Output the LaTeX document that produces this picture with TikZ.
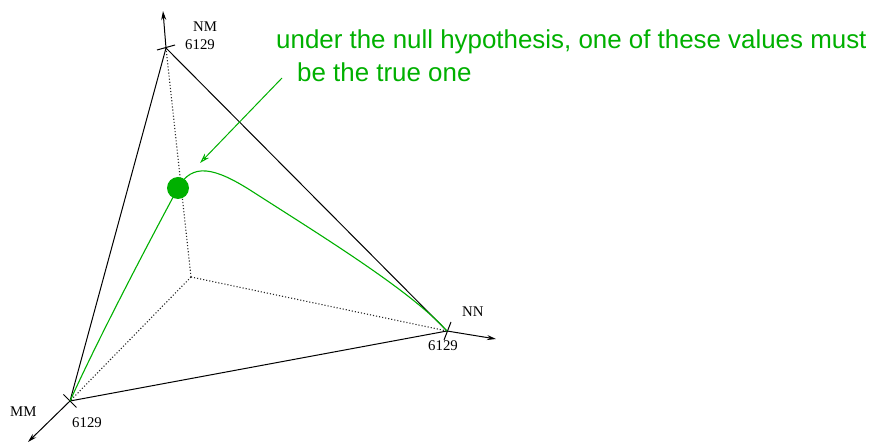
\documentclass[tikz,border=0pt]{standalone}
\usepackage{fontspec}
\setmainfont{Liberation Serif}
\newfontfamily\helv{Liberation Sans}
\usetikzlibrary{arrows.meta,calc}
\definecolor{xgreen}{RGB}{0,176,0}
\begin{document}
\begin{tikzpicture}[x=1pt,y=-1pt,
  edge/.style={line width=1pt,black},
  dotline/.style={line width=1.1pt,dotted,black!85},
  axisarrow/.style={line width=1pt,-{Stealth[length=9pt,width=5pt]}},
  tickmark/.style={line width=1pt},
  lab/.style={font=\fontsize{14.8}{16}\selectfont,anchor=base west,inner sep=0pt},
  gtext/.style={font=\helv\fontsize{25.9}{30}\selectfont,text=xgreen,anchor=base west,inner sep=0pt},
  curve/.style={line width=1.1pt,xgreen}]
\useasboundingbox (0,0) rectangle (871,443);
% vertices
\coordinate (O) at (191,277);
\coordinate (NM) at (166,48);
\coordinate (NN) at (447,331);
\coordinate (MM) at (70,401);
\coordinate (NMtip) at (163,11);
\coordinate (NNtip) at (496,339);
\coordinate (MMtip) at (28,442);
% dotted axes from origin
\draw[dotline] (O) -- (NM);
\draw[dotline] (O) -- (NN);
\draw[dotline] (O) -- (MM);
% triangle
\draw[edge] (NM) -- (NN) -- (MM) -- cycle;
% axis arrows
\draw[axisarrow] (NM) -- (NMtip);
\draw[axisarrow] (NN) -- (NNtip);
\draw[axisarrow] (MM) -- (MMtip);
% ticks
\draw[tickmark] (157,50) -- (175,45);
\draw[tickmark] (444,340) -- (451,322);
\draw[tickmark] (63.5,394.5) -- (76.5,407.5);
% labels
\node[lab] (lNM) at (193,31.7) {NM};
\node[lab] (vNM) at (185,50) {6129};
\node[lab] (lNN) at (462,316.7) {NN};
\node[lab] (vNN) at (428,351) {6129};
\node[lab] (lMM) at (10,416.7) {MM};
\node[lab] (vMM) at (72,428) {6129};
% green curve
\coordinate (D) at (178,188);
\coordinate (C1) at (250,190);
\draw[curve] (MM) .. controls (100,335) and (150,240) .. (D)
  .. controls (192,162) and (215,168) .. (C1)
  .. controls (320,235) and (410,290) .. (NN);
\fill[xgreen] (D) circle (11);
% text
\node[gtext] (t1) at (276,48.3) {under the null hypothesis, one of these values must};
\node[gtext] (t2) at (297,81.7) {be the true one};
\coordinate (As) at (282,78);
\coordinate (Ae) at (200,163);
\draw[curve,line width=1pt,-{Stealth[length=10pt,width=6pt,open]}] (As) -- (Ae);
\end{tikzpicture}
\end{document}
